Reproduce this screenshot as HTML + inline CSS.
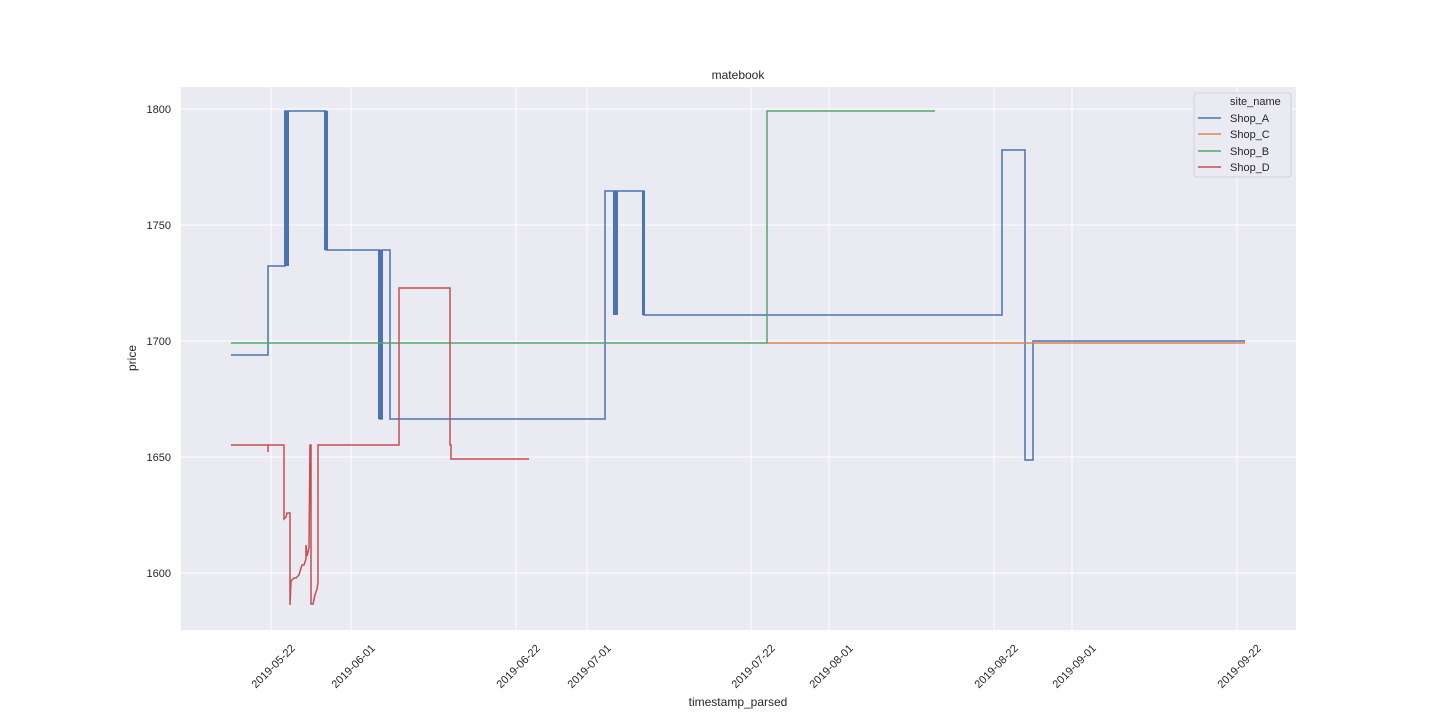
<!DOCTYPE html>
<html><head><meta charset="utf-8"><style>html,body{margin:0;padding:0;background:#fff;}svg{display:block;}text{font-family:"Liberation Sans","DejaVu Sans",sans-serif;fill:#262626;}</style></head>
<body>
<svg width="1440" height="720" viewBox="0 0 1440 720" xmlns="http://www.w3.org/2000/svg">
<rect x="181" y="87" width="1115" height="543" fill="#eaeaf2"/>
<g stroke="#fff" stroke-width="1">
<line x1="271" y1="87" x2="271" y2="630"/><line x1="351" y1="87" x2="351" y2="630"/><line x1="516" y1="87" x2="516" y2="630"/><line x1="587" y1="87" x2="587" y2="630"/><line x1="751" y1="87" x2="751" y2="630"/><line x1="829" y1="87" x2="829" y2="630"/><line x1="994" y1="87" x2="994" y2="630"/><line x1="1072" y1="87" x2="1072" y2="630"/><line x1="1237" y1="87" x2="1237" y2="630"/>
<line x1="181" y1="109" x2="1296" y2="109"/><line x1="181" y1="225" x2="1296" y2="225"/><line x1="181" y1="341" x2="1296" y2="341"/><line x1="181" y1="457" x2="1296" y2="457"/><line x1="181" y1="573" x2="1296" y2="573"/>
</g>
<g font-size="11" text-anchor="end">
<text x="171" y="113">1800</text><text x="171" y="229">1750</text><text x="171" y="345">1700</text><text x="171" y="461">1650</text><text x="171" y="577">1600</text>
</g>
<g font-size="11" text-anchor="middle">
<text transform="translate(273,666) rotate(-45)" dy="4">2019-05-22</text>
<text transform="translate(353,666) rotate(-45)" dy="4">2019-06-01</text>
<text transform="translate(518,666) rotate(-45)" dy="4">2019-06-22</text>
<text transform="translate(589,666) rotate(-45)" dy="4">2019-07-01</text>
<text transform="translate(753,666) rotate(-45)" dy="4">2019-07-22</text>
<text transform="translate(831,666) rotate(-45)" dy="4">2019-08-01</text>
<text transform="translate(996,666) rotate(-45)" dy="4">2019-08-22</text>
<text transform="translate(1074,666) rotate(-45)" dy="4">2019-09-01</text>
<text transform="translate(1239,666) rotate(-45)" dy="4">2019-09-22</text>
</g>
<text x="738" y="79" font-size="12" text-anchor="middle">matebook</text>
<text x="738" y="706" font-size="12" text-anchor="middle">timestamp_parsed</text>
<text transform="translate(136,358) rotate(-90)" font-size="12" text-anchor="middle">price</text>
<g fill="none" stroke-width="1.5" stroke-linejoin="miter">
<polyline stroke="#4c72b0" points="231,355 268,355 268,266 285,266 285,111 326,111 326,250 380,250 380,419 382,419 382,250 390,250 390,419 605,419 605,191 644,191 644,315 1002,315 1002,150 1025,150 1025,460 1033,460 1033,341 1245,341"/>
<rect x="284" y="111" width="5" height="155" fill="#4c72b0" stroke="none"/>
<rect x="324" y="111" width="4" height="139" fill="#4c72b0" stroke="none"/>
<rect x="378" y="250" width="5" height="169" fill="#4c72b0" stroke="none"/>
<rect x="613" y="191" width="5" height="124" fill="#4c72b0" stroke="none"/>
<rect x="642" y="191" width="3" height="124" fill="#4c72b0" stroke="none"/>
<polyline stroke="#dd8452" points="767,343 1245,343"/>
<polyline stroke="#55a868" points="231,343 767,343 767,111 935,111"/>
<polyline stroke="#c44e52" points="231,445 268,445 268,452 268,445 284,445 284,519 286,517 287,513 290,513 290,605 291,581 294,578 296,578 299,575 301,568 302,565 304,565 306,559 306,545 307,556 309,548 310,445 311,445 311,604 313,604 315,595 317,589 318,583 318,445 399,445 399,288 450,288 450,445 451,445 451,459 529,459"/>
</g>
<rect x="1194" y="93" width="97" height="84" rx="3" fill="#eaeaf2" stroke="#d0d0d8" stroke-width="1"/>
<g font-size="11">
<text x="1230" y="105">site_name</text>
<text x="1230" y="122">Shop_A</text>
<text x="1230" y="138">Shop_C</text>
<text x="1230" y="155">Shop_B</text>
<text x="1230" y="171">Shop_D</text>
</g>
<g stroke-width="1.5">
<line x1="1198" y1="118" x2="1221" y2="118" stroke="#4c72b0"/>
<line x1="1198" y1="134" x2="1221" y2="134" stroke="#dd8452"/>
<line x1="1198" y1="151" x2="1221" y2="151" stroke="#55a868"/>
<line x1="1198" y1="167" x2="1221" y2="167" stroke="#c44e52"/>
</g>
</svg>
</body></html>
